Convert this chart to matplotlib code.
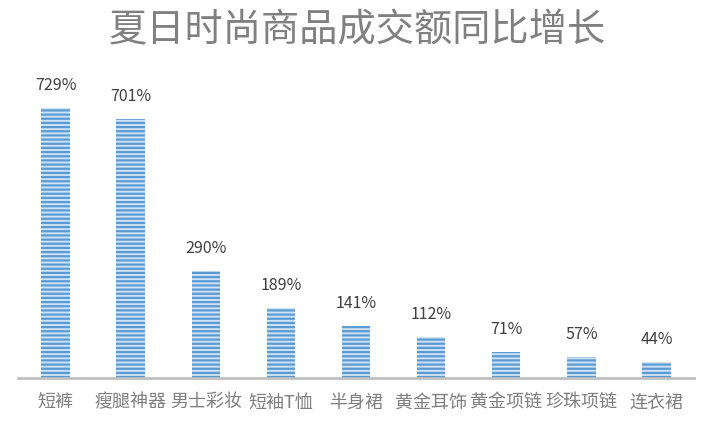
import matplotlib
matplotlib.use("Agg")
import matplotlib.pyplot as plt

categories = ["短裤", "瘦腿神器", "男士彩妆", "短袖T恤", "半身裙", "黄金耳饰", "黄金项链", "珍珠项链", "连衣裙"]
values = [729, 701, 290, 189, 141, 112, 71, 57, 44]
title = "夏日时尚商品成交额同比增长"

plt.rcParams['font.family'] = ['Noto Sans CJK SC', 'DejaVu Sans']
plt.rcParams['hatch.linewidth'] = 1.6
plt.rcParams['hatch.color'] = '#5b9bd5'

fig = plt.figure(figsize=(7.14, 4.24), dpi=100)
ax = fig.add_axes([18/714, 46/424, 676/714, 296/424])

x = list(range(len(categories)))
bars = ax.bar(x, values, width=0.38, color='#cfe1f3', edgecolor='none', hatch='----')
for b in bars:
    b.set_edgecolor('#5b9bd5')
    b.set_linewidth(0)

ax.set_xlim(-0.5, len(categories) - 0.5)
ax.set_ylim(0, 800)
for s in ['top', 'right', 'left']:
    ax.spines[s].set_visible(False)
ax.spines['bottom'].set_color('#bfbfbf')
ax.spines['bottom'].set_linewidth(2)
ax.set_yticks([])
ax.set_xticks(x)
ax.set_xticklabels(categories, fontsize=13, color='#7f7f7f')
ax.tick_params(axis='x', length=0, pad=11)

for xi, v in zip(x, values):
    ax.annotate(f"{v}%", (xi, v), xytext=(0, 10), textcoords='offset points',
                ha='center', va='bottom', fontsize=11.5, color='#404040')

fig.text(0.5, 1 - 31/424, title, ha='center', va='center', fontsize=27.5,
         color='#808080')

fig.savefig('out.png', dpi=100)
